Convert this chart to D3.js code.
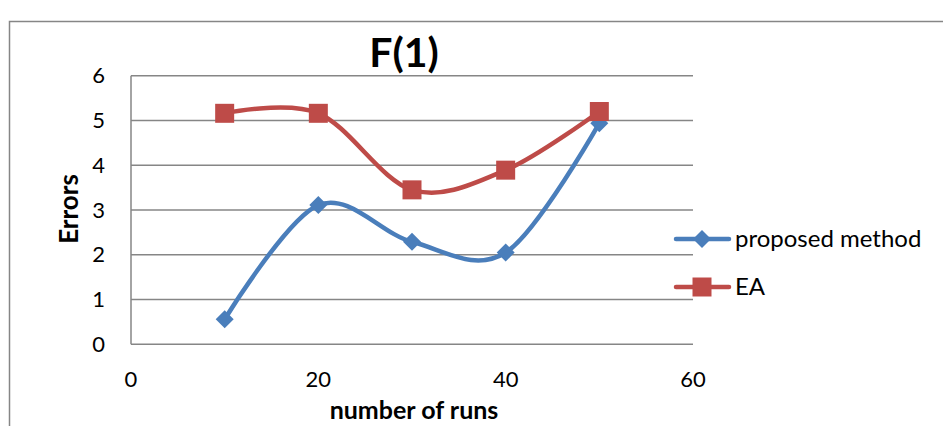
<!DOCTYPE html>
<html>
<head>
<meta charset="utf-8">
<script src="https://cdn.jsdelivr.net/npm/d3@7"></script>
<style>
  html, body { margin: 0; padding: 0; background: #fff; }
  svg { display: block; }
  text { font-family: Lato, "Open Sans", "DejaVu Sans", sans-serif; fill: #000; }
</style>
</head>
<body>
<svg id="chart" width="943" height="426"></svg>
<script>
// Runs on the x axis and error counts per method
const runs = [10, 20, 30, 40, 50];
const proposedMethod = [0.56, 3.11, 2.29, 2.05, 4.94];
const ea = [5.16, 5.16, 3.45, 3.89, 5.2];
const seriesNames = ["proposed method", "EA"];
const xTicks = [0, 20, 40, 60];
const yTicks = [0, 1, 2, 3, 4, 5, 6];

const svg = d3.select("#chart");
const W = 943, H = 426;

// chart frame
svg.append("rect")
  .attr("x", 9.5).attr("y", 21.5)
  .attr("width", W).attr("height", H)
  .attr("fill", "#fff").attr("stroke", "#868686").attr("stroke-width", 1.5);

const plot = { left: 131, right: 693, top: 75.7, bottom: 344.3 };

const x = d3.scaleLinear().domain([0, 60]).range([plot.left, plot.right]);
const y = d3.scaleLinear().domain([0, 6]).range([plot.bottom, plot.top]);

// horizontal gridlines
svg.append("g")
  .selectAll("line")
  .data(yTicks)
  .join("line")
  .attr("x1", plot.left).attr("x2", plot.right)
  .attr("y1", d => y(d)).attr("y2", d => y(d))
  .attr("stroke", "#868686").attr("stroke-width", 1.5);

// left axis line
svg.append("line")
  .attr("x1", plot.left).attr("x2", plot.left)
  .attr("y1", plot.top).attr("y2", plot.bottom)
  .attr("stroke", "#868686").attr("stroke-width", 1.5);

// y tick labels
svg.append("g")
  .selectAll("text")
  .data(yTicks)
  .join("text")
  .attr("x", 105).attr("y", d => y(d))
  .attr("dy", "0.35em")
  .attr("text-anchor", "end")
  .attr("font-size", 22)
  .text(d => d);

// x tick labels
svg.append("g")
  .selectAll("text")
  .data(xTicks)
  .join("text")
  .attr("x", d => x(d)).attr("y", 387)
  .attr("text-anchor", "middle")
  .attr("font-size", 22)
  .text(d => d);

// title
svg.append("text")
  .attr("x", 404).attr("y", 67)
  .attr("text-anchor", "middle")
  .attr("font-size", 41).attr("font-weight", "bold")
  .text("F(1)");

// axis titles
svg.append("text")
  .attr("x", 414).attr("y", 419)
  .attr("text-anchor", "middle")
  .attr("font-size", 25).attr("font-weight", "bold")
  .text("number of runs");

svg.append("text")
  .attr("transform", "translate(78,209) rotate(-90)")
  .attr("text-anchor", "middle")
  .attr("font-size", 26).attr("font-weight", "bold")
  .text("Errors");

const colors = ["#4A7EBB", "#BE4B48"];
const seriesData = [proposedMethod, ea];

const line = d3.line()
  .x(d => x(d[0]))
  .y(d => y(d[1]))
  .curve(d3.curveCardinal.tension(0));

const diamond = s => `M0,${-s}L${s},0L0,${s}L${-s},0Z`;
const square = s => `M${-s},${-s}H${s}V${s}H${-s}Z`;
const markerPath = [diamond(9), square(9.5)];

seriesData.forEach((vals, i) => {
  const pts = runs.map((r, j) => [r, vals[j]]);
  svg.append("path")
    .attr("d", line(pts))
    .attr("fill", "none")
    .attr("stroke", colors[i])
    .attr("stroke-width", 4.5)
    .attr("stroke-linecap", "round");
  svg.append("g")
    .selectAll("path")
    .data(pts)
    .join("path")
    .attr("transform", d => `translate(${x(d[0])},${y(d[1])})`)
    .attr("d", markerPath[i])
    .attr("fill", colors[i]);
});

// legend
const legend = svg.append("g");
seriesNames.forEach((name, i) => {
  const ly = 239 + i * 48;
  legend.append("line")
    .attr("x1", 676).attr("x2", 729)
    .attr("y1", ly).attr("y2", ly)
    .attr("stroke", colors[i]).attr("stroke-width", 4.5)
    .attr("stroke-linecap", "round");
  legend.append("path")
    .attr("transform", `translate(702,${ly})`)
    .attr("d", markerPath[i])
    .attr("fill", colors[i]);
  legend.append("text")
    .attr("x", 735).attr("y", ly)
    .attr("dy", "0.35em")
    .attr("font-size", 24)
    .text(name);
});
</script>
</body>
</html>
